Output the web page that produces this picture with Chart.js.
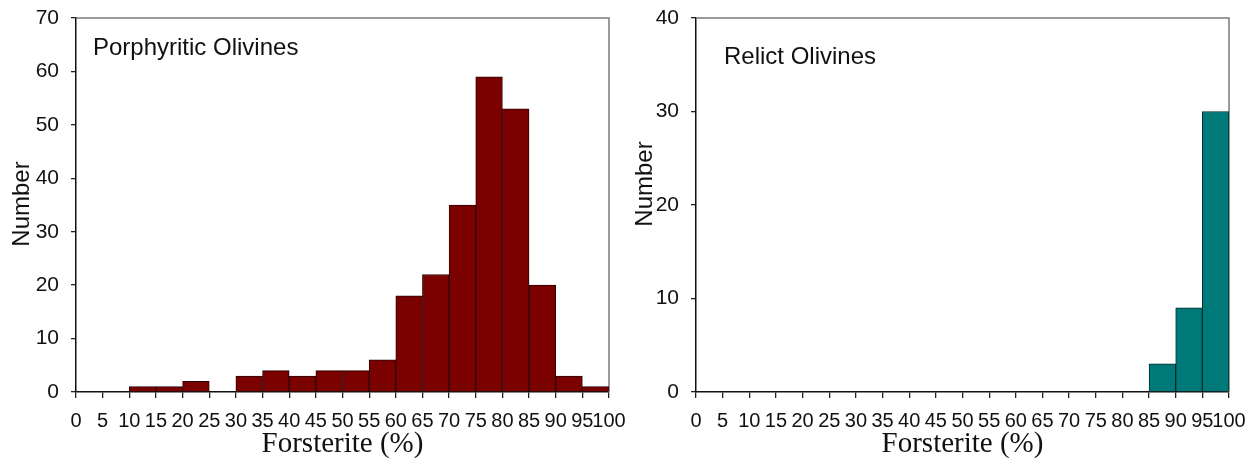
<!DOCTYPE html>
<html><head><meta charset="utf-8">
<script src="https://cdn.jsdelivr.net/npm/chart.js@4.4.1/dist/chart.umd.min.js"></script>
<style>
html,body{margin:0;padding:0;background:#fff;}
#wrap{position:relative;width:1260px;height:473px;overflow:hidden;}
.box{position:absolute;top:0;width:630px;height:473px;}
</style></head><body>
<div id="wrap">
<div class="box" style="left:0"><canvas id="c1" width="630" height="473"></canvas></div>
<div class="box" style="left:630px"><canvas id="c2" width="630" height="473"></canvas></div>
</div>
<script>
// ---- data ----
const binStarts = [0,5,10,15,20,25,30,35,40,45,50,55,60,65,70,75,80,85,90,95];
const binWidth = 5;
const porphyriticCounts = [0,0,1,1,2,0,3,4,3,4,4,6,18,22,35,59,53,20,3,1];
const relictCounts      = [0,0,0,0,0,0,0,0,0,0,0,0,0,0,0,0,0,3,9,30];
const xTickValues = [0,5,10,15,20,25,30,35,40,45,50,55,60,65,70,75,80,85,90,95,100];
const porphyriticYTicks = [0,10,20,30,40,50,60,70];
const relictYTicks = [0,10,20,30,40];
const porphyriticTitle = 'Porphyritic Olivines';
const relictTitle = 'Relict Olivines';
const xTitle = 'Forsterite (%)';
const yTitle = 'Number';

const SANS = '"Liberation Sans", Arial, Helvetica, sans-serif';
const SERIF = '"Liberation Serif", "Times New Roman", serif';

const decorPlugin = {
  id: 'decor',
  beforeDatasetsDraw(chart) {
    const {ctx, chartArea: a} = chart;
    ctx.save();
    ctx.strokeStyle = '#7a7a7a';
    ctx.lineWidth = 1.5;
    ctx.beginPath();
    ctx.moveTo(a.left, a.top);
    ctx.lineTo(a.right, a.top);
    ctx.lineTo(a.right, a.bottom);
    ctx.stroke();
    ctx.restore();
  },
  afterDraw(chart, args, o) {
    const {ctx, chartArea: a} = chart;
    ctx.save();
    ctx.fillStyle = '#111';
    ctx.textBaseline = 'alphabetic';
    ctx.font = '24px ' + SANS;
    ctx.textAlign = 'left';
    ctx.fillText(o.panel, a.left + o.panelDx, a.top + o.panelDy);
    ctx.font = '29px ' + SERIF;
    ctx.textAlign = 'center';
    ctx.fillText(xTitle, (a.left + a.right) / 2, o.xTitleBaseline);
    ctx.font = '24px ' + SANS;
    ctx.translate(o.yTitleX, o.yTitleY);
    ctx.rotate(-Math.PI / 2);
    ctx.textAlign = 'center';
    ctx.fillText(yTitle, 0, 0);
    ctx.restore();
  }
};

function makeChart(id, counts, yTicks, color, border, panel, geom) {
  const data = binStarts.map((s, i) => ({x: s + binWidth / 2, y: counts[i] === 0 ? null : counts[i]}));
  return new Chart(document.getElementById(id), {
    type: 'bar',
    data: {datasets: [{
      data: data,
      backgroundColor: color,
      borderColor: border,
      borderWidth: 1,
      borderSkipped: 'start',
      barPercentage: 1.0,
      categoryPercentage: 1.0
    }]},
    options: {
      responsive: false,
      animation: false,
      devicePixelRatio: 1,
      layout: {padding: {top: 18, right: geom.padRight, left: 0, bottom: 0}},
      plugins: {
        legend: {display: false},
        tooltip: {enabled: false},
        decor: {
          panel: panel, panelDx: geom.panelDx, panelDy: geom.panelDy,
          xTitleBaseline: 452, yTitleX: geom.yTitleX, yTitleY: geom.yTitleY
        }
      },
      scales: {
        x: {
          type: 'linear',
          min: xTickValues[0],
          max: xTickValues[xTickValues.length - 1],
          offset: false,
          afterBuildTicks: s => { s.ticks = xTickValues.map(v => ({value: v})); },
          afterFit: s => { s.height = 81; s.paddingLeft = 0; s.paddingRight = 0; },
          ticks: {
            autoSkip: false, maxRotation: 0, minRotation: 0,
            padding: 11, color: '#111',
            font: {family: SANS, size: 20},
            callback: v => String(v)
          },
          grid: {display: true, drawOnChartArea: false, drawTicks: true, tickLength: 6,
                 color: '#222', tickColor: '#222', lineWidth: 1.3, offset: false},
          border: {display: true, color: '#111', width: 1.5}
        },
        y: {
          min: yTicks[0],
          max: yTicks[yTicks.length - 1],
          afterBuildTicks: s => { s.ticks = yTicks.map(v => ({value: v})); },
          afterFit: s => { s.width = geom.yWidth; s.paddingTop = 0; s.paddingBottom = 0; },
          ticks: {padding: 12, color: '#111', font: {family: SANS, size: 21},
                  callback: v => String(v)},
          grid: {display: true, drawOnChartArea: false, drawTicks: true, tickLength: 5,
                 color: '#222', tickColor: '#222', lineWidth: 1.3},
          border: {display: true, color: '#111', width: 1.5}
        }
      }
    },
    plugins: [decorPlugin]
  });
}

makeChart('c1', porphyriticCounts, porphyriticYTicks, '#7b0000', '#2a0505', porphyriticTitle,
  {padRight: 21, yWidth: 76, panelDx: 17, panelDy: 37, yTitleX: 29, yTitleY: 204});
makeChart('c2', relictCounts, relictYTicks, '#007a78', '#062a2a', relictTitle,
  {padRight: 31, yWidth: 66, panelDx: 28, panelDy: 46, yTitleX: 22, yTitleY: 184});
</script>
</body></html>
